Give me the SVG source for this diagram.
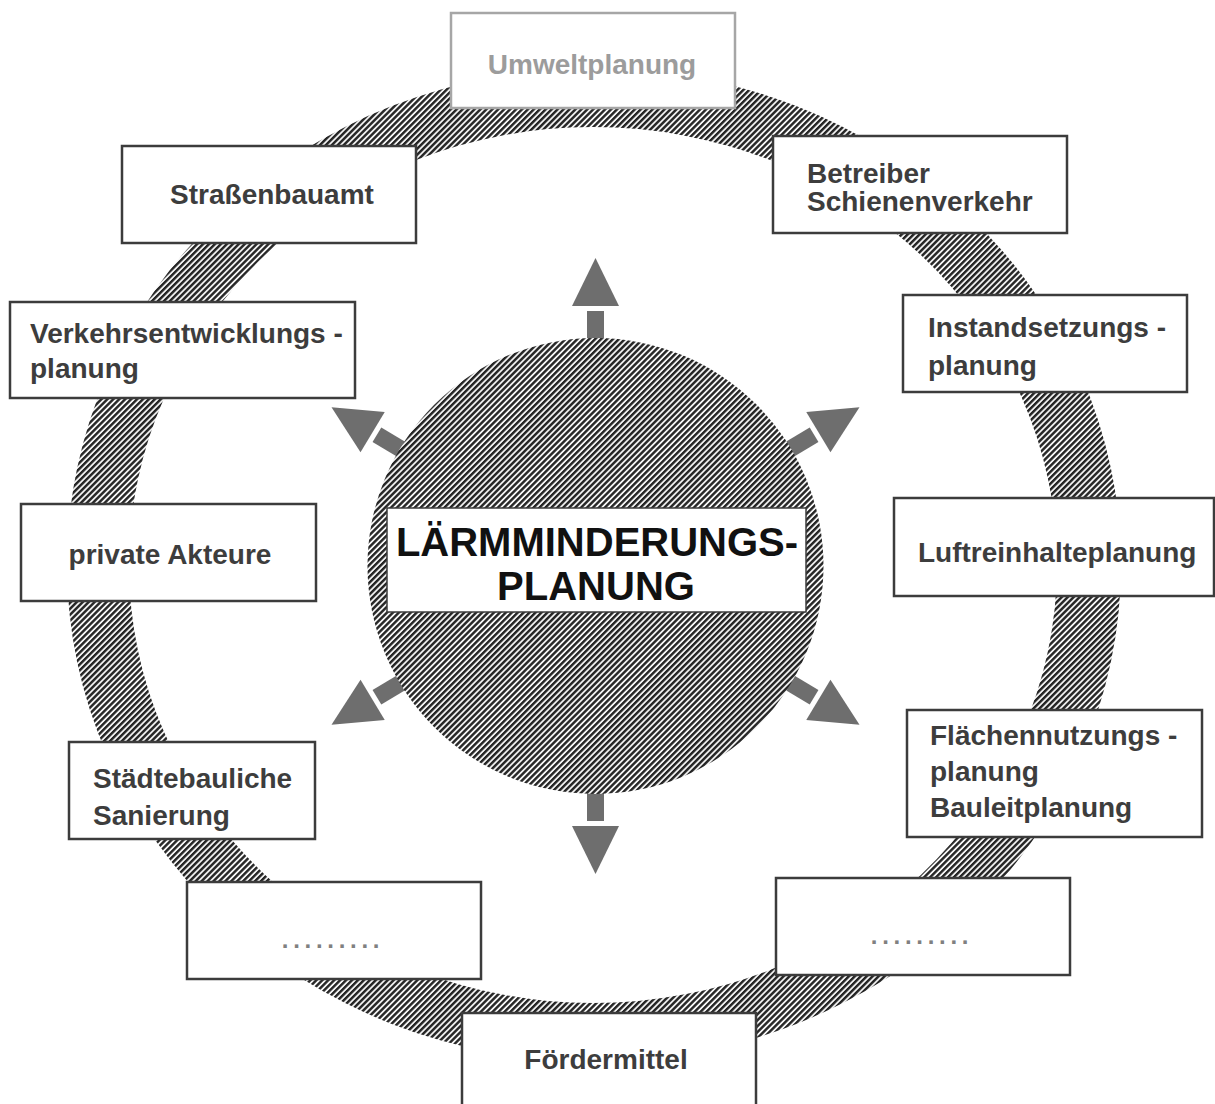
<svg xmlns="http://www.w3.org/2000/svg" width="1215" height="1104" viewBox="0 0 1215 1104">
  <style>
    .box { fill: #ffffff; stroke: #3c3c3c; stroke-width: 2.5; }
    .box-light { fill: #ffffff; stroke: #a6a6a6; stroke-width: 2.5; }
    .lbl { font-family: "Liberation Sans", Arial, sans-serif; font-weight: bold; font-size: 28px; fill: #3d3d3d; }
    .lbl-light { fill: #9c9c9c; }
    .mid { text-anchor: middle; }
    .title { font-family: "Liberation Sans", Arial, sans-serif; font-weight: bold; font-size: 40px; fill: #111111; text-anchor: middle; }
    .dots { font-family: "Liberation Sans", Arial, sans-serif; font-weight: bold; font-size: 24px; fill: #808080; letter-spacing: 4.7px; text-anchor: middle; }
    .arrow { fill: #6e6e6e; }
  </style>
  <defs>
    <pattern id="hatch" width="4.2" height="4.2" patternUnits="userSpaceOnUse" patternTransform="rotate(-45)">
      <rect width="4.2" height="4.2" fill="#f4f4f4"/>
      <rect width="4.2" height="2.4" fill="#242424"/>
    </pattern>
    <g id="arrowShape">
      <rect x="215" y="-8.5" width="40" height="17"/>
      <polygon points="260,-23.5 308,0 260,23.5"/>
    </g>
  </defs>

  <rect width="1215" height="1104" fill="#ffffff"/>

  <!-- hatched ring -->
  <path id="ring" fill="url(#hatch)" fill-rule="evenodd"
        d="M67,565 a527,497 0 1,0 1054,0 a527,497 0 1,0 -1054,0 Z M129,565 a464,438 0 1,0 928,0 a464,438 0 1,0 -928,0 Z"/>

  <!-- connectors: arrows radiating from centre -->
  <g id="connectors" class="arrow">
    <use href="#arrowShape" transform="translate(595.5,566) rotate(-90)"/>
    <use href="#arrowShape" transform="translate(595.5,566) rotate(-31)"/>
    <use href="#arrowShape" transform="translate(595.5,566) rotate(31)"/>
    <use href="#arrowShape" transform="translate(595.5,566) rotate(90)"/>
    <use href="#arrowShape" transform="translate(595.5,566) rotate(149)"/>
    <use href="#arrowShape" transform="translate(595.5,566) rotate(211)"/>
  </g>

  <!-- central node -->
  <g id="node-center">
    <circle cx="595.5" cy="566" r="228" fill="url(#hatch)"/>
    <rect x="387" y="508" width="419" height="104" fill="#ffffff" stroke="#3c3c3c" stroke-width="1.5"/>
    <text class="title" x="597" y="556">LÄRMMINDERUNGS-</text>
    <text class="title" x="596" y="600">PLANUNG</text>
  </g>

  <g id="node-umweltplanung">
    <rect class="box-light" x="451" y="13" width="284" height="95"/>
    <text class="lbl lbl-light mid" x="592" y="74">Umweltplanung</text>
  </g>

  <g id="node-strassenbauamt">
    <rect class="box" x="122" y="146" width="294" height="97"/>
    <text class="lbl mid" x="272" y="204">Straßenbauamt</text>
  </g>

  <g id="node-betreiber">
    <rect class="box" x="773" y="136" width="294" height="97"/>
    <text class="lbl" x="807" y="183">Betreiber</text>
    <text class="lbl" x="807" y="211">Schienenverkehr</text>
  </g>

  <g id="node-verkehrsentwicklung">
    <rect class="box" x="10" y="302" width="345" height="96"/>
    <text class="lbl" x="30" y="343">Verkehrsentwicklungs -</text>
    <text class="lbl" x="30" y="378">planung</text>
  </g>

  <g id="node-instandsetzung">
    <rect class="box" x="903" y="295" width="284" height="97"/>
    <text class="lbl" x="928" y="337">Instandsetzungs -</text>
    <text class="lbl" x="928" y="375">planung</text>
  </g>

  <g id="node-private">
    <rect class="box" x="21" y="504" width="295" height="97"/>
    <text class="lbl mid" x="170" y="564">private Akteure</text>
  </g>

  <g id="node-luftreinhalte">
    <rect class="box" x="894" y="498" width="320" height="98"/>
    <text class="lbl" x="918" y="562">Luftreinhalteplanung</text>
  </g>

  <g id="node-staedtebau">
    <rect class="box" x="69" y="742" width="246" height="97"/>
    <text class="lbl" x="93" y="788">Städtebauliche</text>
    <text class="lbl" x="93" y="825">Sanierung</text>
  </g>

  <g id="node-flaechennutzung">
    <rect class="box" x="907" y="710" width="295" height="127"/>
    <text class="lbl" x="930" y="745">Flächennutzungs -</text>
    <text class="lbl" x="930" y="781">planung</text>
    <text class="lbl" x="930" y="817">Bauleitplanung</text>
  </g>

  <g id="node-dots-left">
    <rect class="box" x="187" y="882" width="294" height="97"/>
    <text class="dots" x="333" y="948">.........</text>
  </g>

  <g id="node-dots-right">
    <rect class="box" x="776" y="878" width="294" height="97"/>
    <text class="dots" x="922" y="944">.........</text>
  </g>

  <g id="node-foerdermittel">
    <rect class="box" x="462" y="1013" width="294" height="100"/>
    <text class="lbl mid" x="606" y="1069">Fördermittel</text>
  </g>
</svg>
